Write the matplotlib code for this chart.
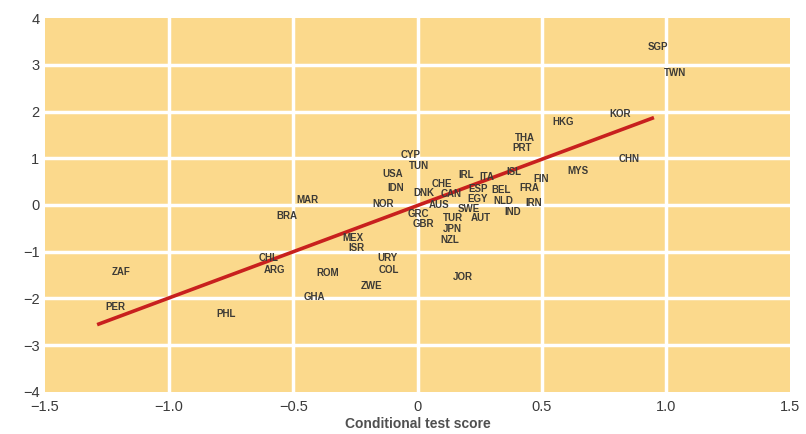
import matplotlib
matplotlib.use('Agg')
import matplotlib.pyplot as plt

plt.rcParams['font.family'] = ['Liberation Sans', 'DejaVu Sans']

# country codes and their (conditional test score, growth) positions
countries = ['SGP', 'TWN', 'KOR', 'HKG', 'CHN', 'MYS', 'THA', 'PRT', 'CYP', 'TUN',
             'USA', 'IDN', 'NOR', 'MAR', 'BRA', 'CHE', 'IRL', 'ITA', 'ISL', 'FIN',
             'FRA', 'BEL', 'ESP', 'DNK', 'CAN', 'EGY', 'NLD', 'IRN', 'AUS', 'SWE',
             'IND', 'GRC', 'GBR', 'TUR', 'AUT', 'JPN', 'NZL', 'MEX', 'ISR', 'URY',
             'COL', 'ZWE', 'ROM', 'GHA', 'CHL', 'ARG', 'ZAF', 'PER', 'PHL', 'JOR']
score = [0.968, 1.036, 0.815, 0.585, 0.851, 0.645, 0.431, 0.423, -0.028, 0.004,
         -0.10, -0.089, -0.137, -0.444, -0.524, 0.097, 0.194, 0.278, 0.387, 0.496,
         0.452, 0.335, 0.246, 0.024, 0.137, 0.242, 0.347, 0.468, 0.085, 0.206,
         0.383, 0.004, 0.024, 0.141, 0.254, 0.141, 0.129, -0.258, -0.246, -0.121,
         -0.117, -0.185, -0.363, -0.415, -0.60, -0.577, -1.194, -1.218, -0.770, 0.181]
growth = [3.38, 2.82, 1.94, 1.78, 0.99, 0.73, 1.44, 1.23, 1.08, 0.84,
          0.67, 0.37, 0.02, 0.11, -0.24, 0.45, 0.65, 0.60, 0.71, 0.56,
          0.37, 0.32, 0.35, 0.26, 0.24, 0.13, 0.09, 0.04, 0.0, -0.09,
          -0.15, -0.20, -0.41, -0.28, -0.28, -0.52, -0.75, -0.71, -0.93, -1.14,
          -1.38, -1.74, -1.46, -1.96, -1.14, -1.40, -1.44, -2.19, -2.34, -1.53]

# regression line end points
fit_x = [-1.29, 0.952]
fit_y = [-2.56, 1.87]

xticks = [-1.5, -1.0, -0.5, 0, 0.5, 1.0, 1.5]
xticklabels = ['\u22121.5', '\u22121.0', '\u22120.5', '0', '0.5', '1.0', '1.5']
yticks = [-4, -3, -2, -1, 0, 1, 2, 3, 4]
yticklabels = ['\u22124', '\u22123', '\u22122', '\u22121', '0', '1', '2', '3', '4']

fig = plt.figure(figsize=(8.06, 4.34), dpi=100)
ax = fig.add_axes([0.0558, 0.0968, 0.9244, 0.8617])
ax.set_facecolor('#fbd98c')

for t in xticks[1:-1]:
    ax.axvline(t, color='white', lw=2.5, zorder=1)
for t in yticks[1:-1]:
    ax.axhline(t, color='white', lw=2.5, zorder=1)

ax.plot(fit_x, fit_y, color='#c8201e', lw=2.6, zorder=2, solid_capstyle='butt')

for c, x, y in zip(countries, score, growth):
    ax.text(x, y, c, ha='center', va='center', fontsize=7, fontweight='bold',
            color='#3c3a36', zorder=3)

ax.set_xlim(-1.5, 1.5)
ax.set_ylim(-4, 4)
ax.set_xticks(xticks)
ax.set_xticklabels(xticklabels)
ax.set_yticks(yticks)
ax.set_yticklabels(yticklabels)
ax.tick_params(length=0, labelsize=10.5, colors='#3a3a3a')
ax.tick_params(axis='x', pad=6)
ax.tick_params(axis='y', pad=4)
for s in ax.spines.values():
    s.set_visible(False)

ax.set_xlabel('Conditional test score', fontsize=10, fontweight='bold', color='#505050', labelpad=2)

fig.savefig('out.png', dpi=100)
